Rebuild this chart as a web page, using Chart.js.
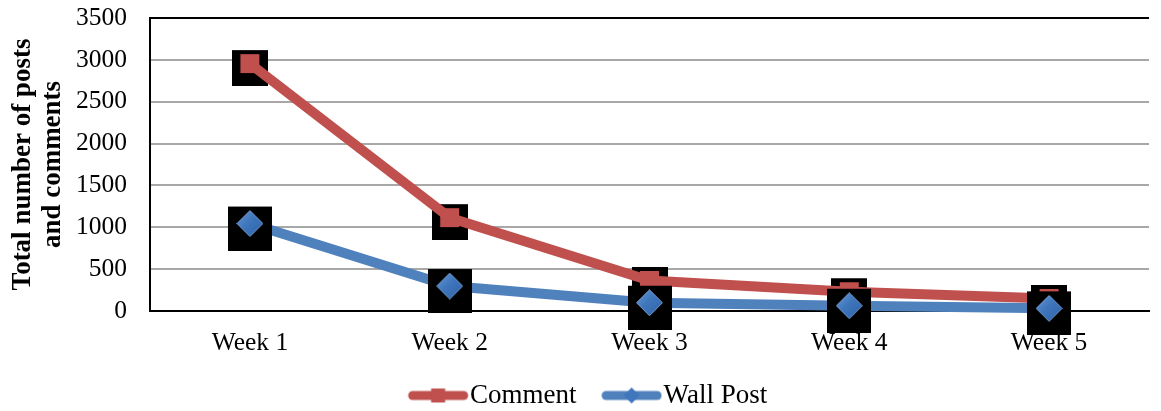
<!DOCTYPE html>
<html>
<head>
<meta charset="utf-8">
<script src="https://cdn.jsdelivr.net/npm/chart.js@4/dist/chart.umd.min.js"></script>
<style>
  html, body { margin: 0; padding: 0; overflow: hidden; background: #fff; }
  canvas { display: block; margin-top: -3px; }
</style>
</head>
<body>
<canvas id="chart" width="1170" height="422"></canvas>
<script>
// Weekly totals of comments and wall posts
const weeks = ['Week 1', 'Week 2', 'Week 3', 'Week 4', 'Week 5'];
const comments = [2955, 1115, 365, 230, 150];
const wallPosts = [1045, 298, 99, 63, 32];
const seriesNames = ['Comment', 'Wall Post'];
const yTitle = ['Total number of posts', 'and comments'];
const yMax = 3500;
const yStep = 500;

const RED = '#C0504D';
const BLUE = '#4F81BD';
const FONT = 'Liberation Serif';

// black backing square, dropped a few pixels below the point
function backingBox(size, drop) {
  const c = document.createElement('canvas');
  c.width = size;
  c.height = size + 2 * drop;
  const g = c.getContext('2d');
  g.fillStyle = '#000';
  g.fillRect(0, 2 * drop, size, size);
  return c;
}

// shaded blue diamond marker
function diamond(size) {
  const c = document.createElement('canvas');
  c.width = size; c.height = size;
  const g = c.getContext('2d');
  const h = size / 2;
  const grad = g.createLinearGradient(0, 0, size, size);
  grad.addColorStop(0, '#6a9ad6');
  grad.addColorStop(0.45, '#3f76bc');
  grad.addColorStop(1, '#2f62a6');
  g.beginPath();
  g.moveTo(h, 0.5); g.lineTo(size - 0.5, h); g.lineTo(h, size - 0.5); g.lineTo(0.5, h);
  g.closePath();
  g.fillStyle = grad;
  g.fill();
  g.strokeStyle = 'rgba(120,160,215,0.9)';
  g.lineWidth = 1;
  g.stroke();
  return c;
}

// legend swatch: thick line with the series marker in the middle
function legendIcon(color, kind) {
  const w = 84, h = 22, start = 23.4, len = 60;
  const c = document.createElement('canvas');
  c.width = w; c.height = h;
  const g = c.getContext('2d');
  const cy = h / 2;
  g.strokeStyle = color;
  g.lineWidth = 9;
  g.lineCap = 'round';
  g.beginPath();
  g.moveTo(start + 4.5, cy);
  g.lineTo(start + len - 4.5, cy);
  g.stroke();
  const mx = start + len / 2;
  if (kind === 'square') {
    g.fillStyle = color;
    g.fillRect(mx - 7, cy - 7, 14, 14);
  } else {
    g.fillStyle = '#3f76bc';
    g.beginPath();
    g.moveTo(mx, cy - 8); g.lineTo(mx + 8, cy); g.lineTo(mx, cy + 8); g.lineTo(mx - 8, cy);
    g.closePath();
    g.fill();
  }
  return c;
}

const redBox = backingBox(36, 4.5);
const blueBox = backingBox(44, 5);
const blueDiamond = diamond(27);
const iconComment = legendIcon(RED, 'square');
const iconWall = legendIcon(BLUE, 'diamond');

Chart.defaults.font.family = FONT;
Chart.defaults.color = '#000';

new Chart(document.getElementById('chart'), {
  type: 'line',
  data: {
    labels: weeks,
    datasets: [
      { label: seriesNames[1], data: wallPosts, showLine: false, pointStyle: blueDiamond,
        pointRadius: 14, order: 1, clip: false },
      { label: seriesNames[1], data: wallPosts, showLine: false, pointStyle: blueBox,
        pointRadius: 20, order: 2, clip: false },
      { label: seriesNames[1], data: wallPosts, borderColor: BLUE, borderWidth: 10,
        borderCapStyle: 'round', borderJoinStyle: 'round', tension: 0,
        pointRadius: 0, order: 3, clip: false },
      { label: seriesNames[0], data: comments, borderColor: RED, borderWidth: 10,
        borderCapStyle: 'round', borderJoinStyle: 'round', tension: 0,
        pointStyle: 'rect', pointRadius: 13.4, backgroundColor: RED, pointBackgroundColor: RED,
        pointBorderWidth: 0, order: 4, clip: false },
      { label: seriesNames[0], data: comments, showLine: false, pointStyle: redBox,
        pointRadius: 18, order: 5, clip: false }
    ]
  },
  options: {
    responsive: false,
    animation: false,
    events: [],
    layout: { padding: { left: 0, right: 6, top: 14, bottom: 0 } },
    scales: {
      x: {
        type: 'category',
        offset: true,
        grid: { display: false, drawTicks: false },
        border: { display: true, color: '#000', width: 2 },
        ticks: { padding: 17, font: { size: 25.5, family: FONT }, color: '#000', maxRotation: 0 },
        afterFit: (s) => { s.height = 57.3; }
      },
      y: {
        min: 0,
        max: yMax,
        ticks: {
          stepSize: yStep,
          padding: 0,
          font: { size: 25.5, family: FONT, lineHeight: 1 },
          color: '#000',
          callback: (v) => String(v)
        },
        grid: {
          drawTicks: true,
          tickLength: 23,
          tickColor: 'rgba(0,0,0,0)',
          lineWidth: 2,
          color: (ctx) => (ctx.tick && (ctx.tick.value === yMax || ctx.tick.value === 0)) ? '#000' : '#a8a8a8'
        },
        border: { display: true, color: '#000', width: 2 },
        title: {
          display: true,
          text: yTitle,
          color: '#000',
          font: { size: 27, weight: 'bold', family: FONT, lineHeight: 1.11 },
          padding: { top: 8, bottom: 0 }
        },
        afterFit: (s) => { s.width = 150; }
      }
    },
    plugins: {
      tooltip: { enabled: false },
      legend: {
        position: 'bottom',
        onClick: null,
        labels: {
          usePointStyle: true,
          pointStyleWidth: 59.8,
          padding: 13.7,
          color: '#000',
          font: { size: 27, family: FONT },
          generateLabels: () => [
            { text: seriesNames[0], pointStyle: iconComment, fillStyle: RED, strokeStyle: RED,
              lineWidth: 0, hidden: false, datasetIndex: 3, fontColor: '#000' },
            { text: seriesNames[1], pointStyle: iconWall, fillStyle: BLUE, strokeStyle: BLUE,
              lineWidth: 0, hidden: false, datasetIndex: 2, fontColor: '#000' }
          ]
        }
      }
    }
  }
});
</script>
</body>
</html>
